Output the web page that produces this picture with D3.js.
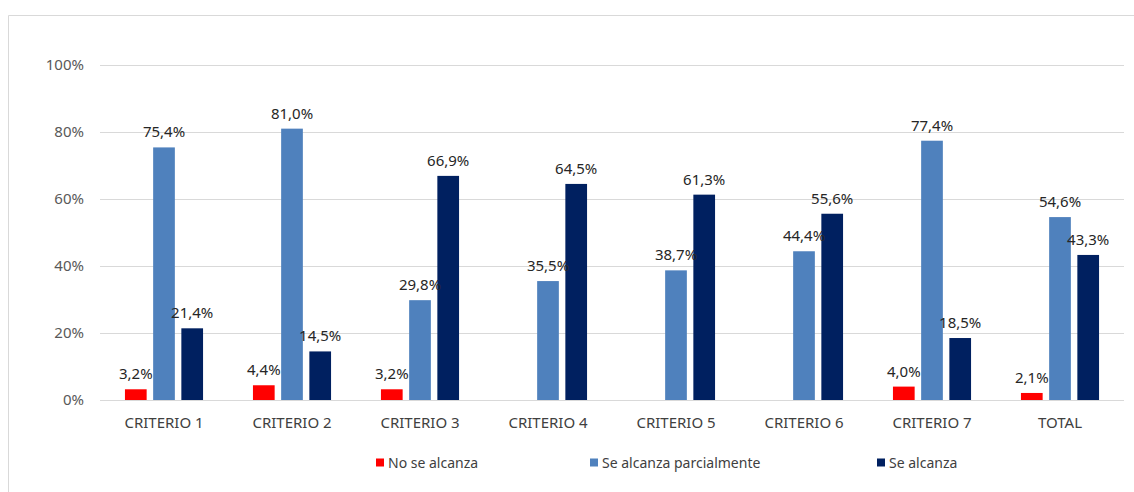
<!DOCTYPE html>
<html>
<head>
<meta charset="utf-8">
<script src="https://cdn.jsdelivr.net/npm/d3@7/dist/d3.min.js"></script>
<style>
  html, body { margin: 0; padding: 0; background: #fff; }
  svg { display: block; }
  text { font-family: "Noto Sans", "Open Sans", sans-serif; }
</style>
</head>
<body>
<script>
// Categories and series (percentages)
const categories = ["CRITERIO 1", "CRITERIO 2", "CRITERIO 3", "CRITERIO 4", "CRITERIO 5", "CRITERIO 6", "CRITERIO 7", "TOTAL"];
const seriesNames = ["No se alcanza", "Se alcanza parcialmente", "Se alcanza"];
const noSeAlcanza = [3.2, 4.4, 3.2, null, null, null, 4.0, 2.1];
const parcialmente = [75.4, 81.0, 29.8, 35.5, 38.7, 44.4, 77.4, 54.6];
const seAlcanza = [21.4, 14.5, 66.9, 64.5, 61.3, 55.6, 18.5, 43.3];
const yTicks = [0, 20, 40, 60, 80, 100];
const colors = ["#ff0000", "#4f81bd", "#002060"];

const W = 1134, H = 492;
const svg = d3.select("body").append("svg").attr("width", W).attr("height", H);

// chart frame (top and left edges visible)
svg.append("line").attr("x1", 8.5).attr("x2", W).attr("y1", 15.5).attr("y2", 15.5)
  .attr("stroke", "#d9d9d9").attr("stroke-width", 1);
svg.append("line").attr("x1", 8.5).attr("x2", 8.5).attr("y1", 15.5).attr("y2", H)
  .attr("stroke", "#d9d9d9").attr("stroke-width", 1);

const x0 = d3.scaleBand().domain(categories).range([100, 1124]).paddingInner(0).paddingOuter(0);
const y = d3.scaleLinear().domain([0, 100]).range([400, 65]);

// gridlines
svg.append("g").selectAll("line").data(yTicks).join("line")
  .attr("x1", 100).attr("x2", 1124)
  .attr("y1", d => Math.round(y(d)) + 0.5).attr("y2", d => Math.round(y(d)) + 0.5)
  .attr("stroke", "#d9d9d9").attr("stroke-width", 1);

// y axis labels
svg.append("g").selectAll("text").data(yTicks).join("text")
  .attr("x", 84).attr("y", d => y(d)).attr("dy", "0.36em")
  .attr("text-anchor", "end").attr("font-size", 15).attr("fill", "#595959")
  .text(d => d + "%");

// grouped bars
const barW = 21.7, gap = 6.5;
const groupW = 3 * barW + 2 * gap;
const x1 = d3.scaleOrdinal().domain([0, 1, 2]).range([0, barW + gap, 2 * (barW + gap)]);

const rows = [];
const seriesVals = [noSeAlcanza, parcialmente, seAlcanza];
categories.forEach((c, i) => {
  seriesVals.forEach((vals, s) => {
    if (vals[i] != null) rows.push({ cat: c, s, v: vals[i] });
  });
});
const bx = d => x0(d.cat) + (x0.bandwidth() - groupW) / 2 + x1(d.s);

svg.append("g").selectAll("rect").data(rows).join("rect")
  .attr("x", bx).attr("width", barW)
  .attr("y", d => y(d.v)).attr("height", d => y(0) - y(d.v))
  .attr("fill", d => colors[d.s]);

// value labels
const fmt = v => v.toFixed(1).replace(".", ",") + "%";
svg.append("g").selectAll("text").data(rows).join("text")
  .attr("x", d => bx(d) + barW / 2).attr("y", d => y(d.v) - 10)
  .attr("text-anchor", "middle").attr("font-size", 15).attr("fill", "#262626")
  .text(d => fmt(d.v));

// category labels
svg.append("g").selectAll("text").data(categories).join("text")
  .attr("x", d => x0(d) + x0.bandwidth() / 2).attr("y", 428)
  .attr("text-anchor", "middle").attr("font-size", 15).attr("fill", "#404040")
  .text(d => d);

// legend
const legendX = [376, 590, 877];
const lg = svg.append("g").selectAll("g").data(seriesNames).join("g")
  .attr("transform", (d, i) => `translate(${legendX[i]},463)`);
lg.append("rect").attr("x", 0).attr("y", -4.5).attr("width", 8).attr("height", 8)
  .attr("fill", (d, i) => colors[i]);
lg.append("text").attr("x", 12).attr("y", 0).attr("dy", "0.35em")
  .attr("font-size", 14).attr("fill", "#404040").text(d => d);
</script>
</body>
</html>
